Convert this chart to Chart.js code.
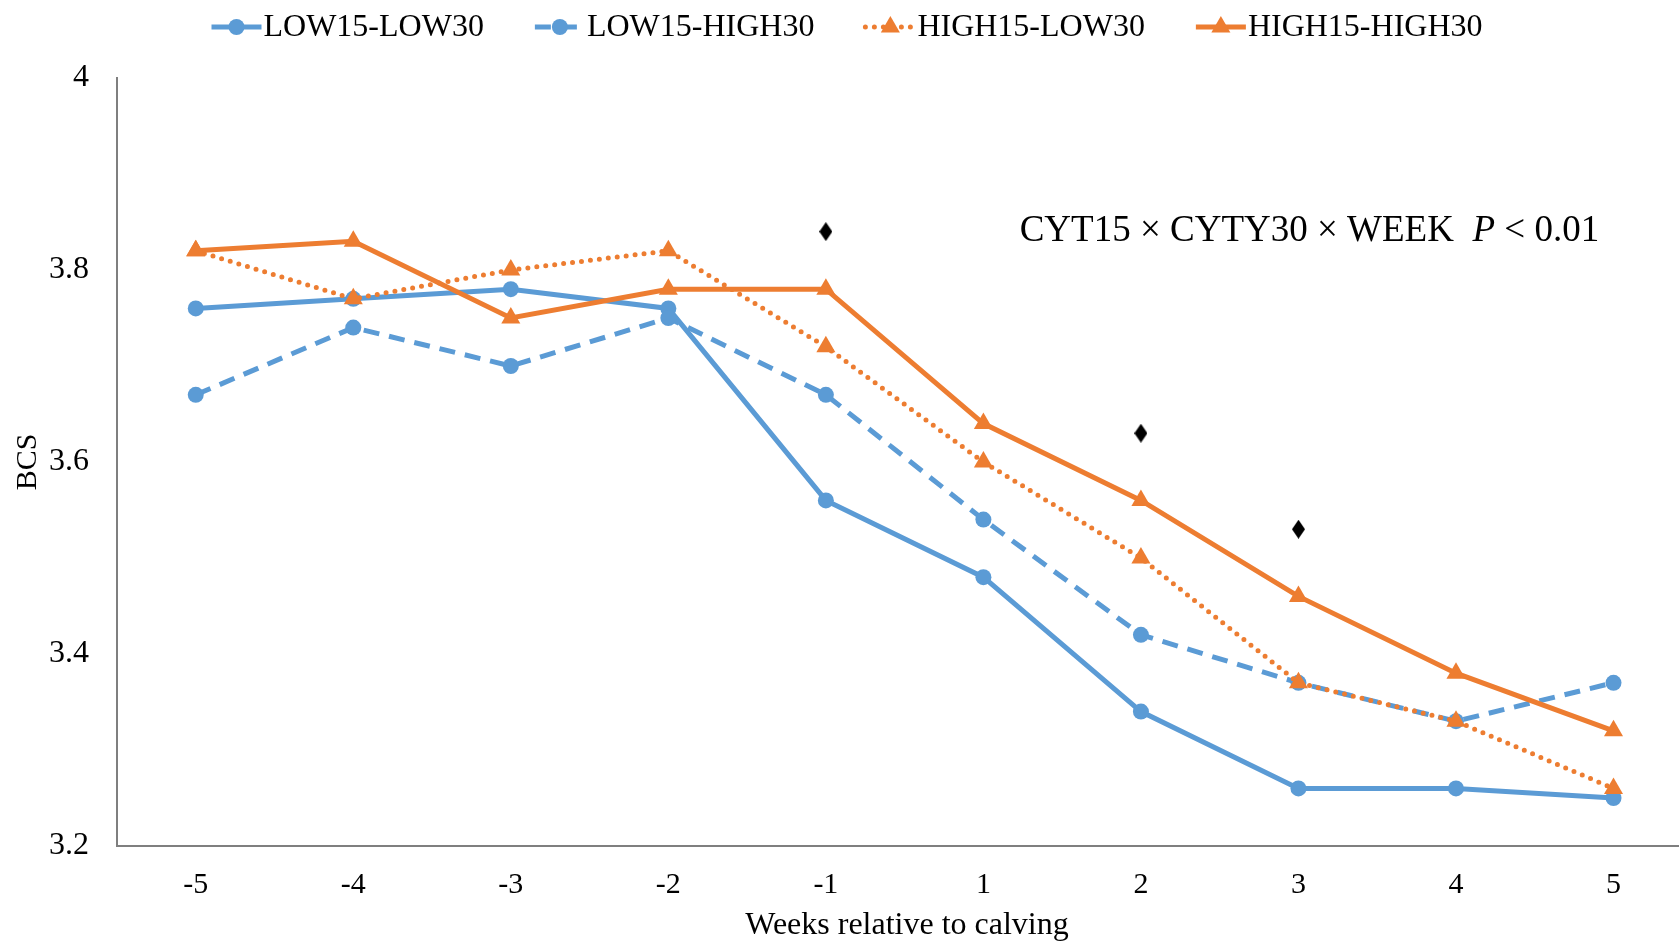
<!DOCTYPE html>
<html>
<head>
<meta charset="utf-8">
<title>BCS by week</title>
<script src="https://cdn.jsdelivr.net/npm/chart.js@4.4.1/dist/chart.umd.min.js"></script>
<style>
    html, body { margin: 0; padding: 0; background: #fff; overflow: hidden; }
    #wrap { width: 1708px; height: 945px; position: relative; }
</style>
</head>
<body>
<div id="wrap"><canvas id="bcs-chart"></canvas></div>
<script>
// weeks relative to calving
const weeks = ['-5', '-4', '-3', '-2', '-1', '1', '2', '3', '4', '5'];

// body condition score per group
const low15Low30   = [3.76, 3.77, 3.78, 3.76, 3.56, 3.48, 3.34, 3.26, 3.26, 3.25];
const low15High30  = [3.67, 3.74, 3.70, 3.75, 3.67, 3.54, 3.42, 3.37, 3.33, 3.37];
const high15Low30  = [3.82, 3.77, 3.80, 3.82, 3.72, 3.60, 3.50, 3.37, 3.33, 3.26];
const high15High30 = [3.82, 3.83, 3.75, 3.78, 3.78, 3.64, 3.56, 3.46, 3.38, 3.32];

// weeks flagged with a diamond
const flagWeeks  = ['-1', '2', '3'];
const flagValues = [3.84, 3.63, 3.53];

const yTicks = [3.2, 3.4, 3.6, 3.8, 4];

const BLUE = '#5B9BD5';
const ORANGE = '#ED7D31';
const FONT = "'Liberation Serif', 'Times New Roman', serif";

Chart.defaults.font.family = FONT;
Chart.defaults.font.size = 32;
Chart.defaults.color = '#000';

const toPoints = (vals) => vals.map((v, i) => ({ x: i, y: v }));

// tall black diamond used for the flags
function diamondImage() {
    const c = document.createElement('canvas');
    c.width = 13;
    c.height = 19;
    const g = c.getContext('2d');
    g.fillStyle = '#000';
    g.beginPath();
    g.moveTo(6.5, 0);
    g.lineTo(13, 9.5);
    g.lineTo(6.5, 19);
    g.lineTo(0, 9.5);
    g.closePath();
    g.fill();
    return c;
}

const series = [
    { label: 'LOW15-LOW30',   data: low15Low30,   color: BLUE,   dash: [],       marker: 'circle' },
    { label: 'LOW15-HIGH30',  data: low15High30,  color: BLUE,   dash: [16, 10], marker: 'circle' },
    { label: 'HIGH15-LOW30',  data: high15Low30,  color: ORANGE, dash: [0, 9],   marker: 'triangle' },
    { label: 'HIGH15-HIGH30', data: high15High30, color: ORANGE, dash: [],       marker: 'triangle' }
];

const datasets = series.map((s, i) => ({
    label: s.label,
    data: toPoints(s.data),
    borderColor: s.color,
    backgroundColor: s.color,
    borderWidth: 5,
    borderDash: s.dash,
    borderCapStyle: s.dash[0] === 0 ? 'round' : 'butt',
    pointStyle: s.marker,
    pointRadius: s.marker === 'circle' ? 8 : 11,
    pointBorderWidth: 0,
    tension: 0,
    order: series.length - i,   // later series sit on top
    inLegend: true
}));

datasets.push({
    label: 'flag',
    type: 'scatter',
    data: flagWeeks.map((w, i) => ({ x: weeks.indexOf(w), y: flagValues[i] })),
    pointStyle: diamondImage(),
    showLine: false,
    order: 0
});

// legend row: short line with its marker, then the name
const lineLegend = {
    id: 'lineLegend',
    afterDraw(chart) {
        const { ctx } = chart;
        const items = chart.data.datasets.filter(ds => ds.inLegend);
        const swatch = 50, gap = 2, spacing = 51, cy = 27, centre = 847;
        ctx.save();
        ctx.font = '32px ' + FONT;
        const widths = items.map(ds => swatch + gap + ctx.measureText(ds.label).width);
        const total = widths.reduce((a, b) => a + b, 0) + spacing * (items.length - 1);
        let x = centre - total / 2;
        items.forEach((ds, i) => {
            ctx.strokeStyle = ds.borderColor;
            ctx.fillStyle = ds.borderColor;
            ctx.lineWidth = ds.borderWidth;
            ctx.lineCap = ds.borderCapStyle;
            ctx.setLineDash(ds.borderDash);
            ctx.beginPath();
            ctx.moveTo(x, cy);
            ctx.lineTo(x + swatch, cy);
            ctx.stroke();
            ctx.setLineDash([]);
            Chart.helpers.drawPoint(ctx, {
                pointStyle: ds.pointStyle,
                radius: ds.pointRadius,
                borderWidth: 0,
                rotation: 0
            }, x + swatch / 2, cy);
            ctx.fillStyle = '#000';
            ctx.textBaseline = 'middle';
            ctx.fillText(ds.label, x + swatch + gap, cy + 1);
            x += widths[i] + spacing;
        });
        ctx.restore();
    }
};

// interaction note in the upper right
const notePlugin = {
    id: 'notePlugin',
    afterDatasetsDraw(chart) {
        const { ctx, scales: { x, y } } = chart;
        const left = x.getPixelForValue(5.23);
        const mid = y.getPixelForValue(3.84);
        const parts = [
            { t: 'CYT15 \u00d7 CYTY30 \u00d7 WEEK  ', f: '37px ' + FONT },
            { t: 'P', f: 'italic 37px ' + FONT },
            { t: ' < 0.01', f: '37px ' + FONT }
        ];
        ctx.save();
        ctx.fillStyle = '#000';
        ctx.textBaseline = 'middle';
        let cx = left;
        parts.forEach(p => {
            ctx.font = p.f;
            ctx.fillText(p.t, cx, mid);
            cx += ctx.measureText(p.t).width;
        });
        ctx.restore();
    }
};

new Chart(document.getElementById('bcs-chart'), {
    type: 'line',
    data: { datasets },
    plugins: [notePlugin, lineLegend],
    options: {
        responsive: true,
        maintainAspectRatio: false,
        animation: false,
        layout: { padding: { top: 78, right: 0, left: 0, bottom: 0 } },
        plugins: {
            tooltip: { enabled: false },
            legend: { display: false }
        },
        scales: {
            x: {
                type: 'linear',
                min: -0.5,
                max: 9.53,
                grid: { display: false },
                border: { display: true, color: '#7f7f7f', width: 2 },
                afterBuildTicks(scale) {
                    scale.ticks = weeks.map((w, i) => ({ value: i }));
                },
                afterFit(scale) { scale.height = 99; },
                ticks: {
                    padding: 13,
                    maxRotation: 0,
                    autoSkip: false,
                    font: { size: 30 },
                    callback: (v) => weeks[v]
                },
                title: {
                    display: true,
                    text: 'Weeks relative to calving',
                    font: { size: 32 },
                    padding: { top: 0, bottom: 0 }
                }
            },
            y: {
                min: 3.2,
                max: 4,
                grid: { display: false },
                border: { display: true, color: '#7f7f7f', width: 2 },
                afterBuildTicks(scale) {
                    scale.ticks = yTicks.map(v => ({ value: v }));
                },
                afterFit(scale) { scale.width = 117; },
                ticks: {
                    padding: 20,
                    font: { size: 32 },
                    callback: (v) => String(v)
                },
                title: {
                    display: true,
                    text: 'BCS',
                    font: { size: 30 },
                    padding: { top: 10, bottom: 0 }
                }
            }
        }
    }
});
</script>
</body>
</html>
